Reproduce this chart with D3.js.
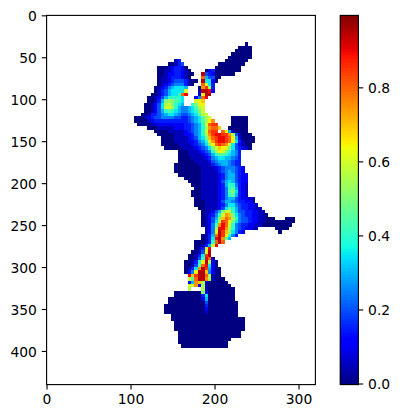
<!DOCTYPE html>
<html><head><meta charset="utf-8">
<script src="https://cdn.jsdelivr.net/npm/d3@7"></script>
<style>html,body{margin:0;padding:0;background:#fff}svg{display:block}
text{font-family:"DejaVu Sans",sans-serif;font-size:13.89px;fill:#000}</style>
</head><body><svg id="c" width="400" height="418"></svg>
<script>
const xTicks=[0,100,200,300];
const yTicks=[0,50,100,150,200,250,300,350,400];
const barTicks=[0,0.2,0.4,0.6,0.8];
const cellSize=4;
const firstRow=8;
const levelChars="0123456789abcdefghijk";
const levelStep=0.05;
const rowStart=[59,57,56,55,54,38,36,33,33,33,33,33,33,32,32,31,30,30,29,29,29,28,26,26,27,30,32,33,34,34,34,35,39,39,39,39,38,38,38,39,41,42,43,44,43,43,44,44,44,45,46,46,46,46,46,47,47,46,46,44,44,44,43,42,42,41,41,41,41,42,42,42,42,42,38,38,36,36,35,35,35,37,37,38,38,38,39,39,39,39,40];
const rowCells=[
"0","0000","00000","000000","0000000",
"13.............0000000",
"00134..........00000000",
"000123320........00000000",
"0011233210....02300000000",
"00122332100..j432000000",
"0112333210...g64400",
"011234443100.j7720",
"01234555310..gc73",
"0123567776...0fhb3",
"013467777c...1jji2",
"001346778gi...2djj",
"00124688887...25gi",
"00136aba987...cde",
"001247bca876..8acd",
"001247ccb8655679bc",
"001246898765" + "5678ac",
"001334567765445679bc",
"000123445555443345679bc......00000",
"000012333333333345679bdf.....00000",
"00001122222222334568cghh....00000",
"0001111122233456" + "8bfgge..000000",
"000011111234568cghh.gd610000",
"00000111223568bfhiihhfb41000",
"0000111123467aeghiihgd620000",
"00001111223568cfhiihgd731000",
"00000111123457adghgfc742100",
"00000111123457acedca743210",
"0001112345" + "8bdca8653",
"0001111234689987653",
"0000111123567766543",
"0000011112456665433",
"00000001111345665433",
"000000001111234555432",
"000000001111134565432",
"000000011111235664322",
"0000011111235664322",
"000011111246764322",
"00011111236885321",
"0011111235896321",
"000111112359a7321",
"00011111235896321",
"001111123566432211",
"000111124665433221",
"0001111235775433221",
"0011112479864332211",
"011246acc8644332211",
"012358cfea7543322110",
"01246aegfb8544322110" + "00...000",
"01247bhgda754432211000000000",
"012" + "59figc854332211000000000",
"125biifb85432211.....0000",
"125djheb7532..........0",
"0136gjhd853",
"0137ijf96",
"000138gjg",
"00136ci",
"013ci",
"0014dj",
"00137hj",
"00148ig1",
"00138djb20",
"00149gi720",
"0137fjh6200",
"025djje5200",
"iehjjgb100",
"c9gjjfb1000",
"26feb1000000",
"ccf2b10000000",
"b...b100000000",
"00000000a200000000",
"000000003700000000",
"00000000002600000000",
"000000000004000000000",
"0000000000003000000000",
"0000000000002000000000",
"0000000000001000000000",
"00000000000000000000",
"0000000000000000000000",
"000000000000000000000",
"000000000000000000000",
"000000000000000000000",
"0000000000000000000",
"0000000000000000000",
"0000000000000000",
"000000000000000",
"00000000000000"
];
const xDomain=[-0.5,319.5], yDomain=[439.5,-0.5], barDomain=[-0.0016,0.9957];
const jetR=[[0,0],[0.35,0],[0.66,1],[0.89,1],[1,0.5]];
const jetG=[[0,0],[0.125,0],[0.375,1],[0.64,1],[0.91,0],[1,0]];
const jetB=[[0,0.5],[0.11,1],[0.34,1],[0.65,0],[1,0]];
const ch=s=>d3.scaleLinear().domain(s.map(d=>d[0])).range(s.map(d=>d[1])).clamp(true);
const R=ch(jetR),G=ch(jetG),B=ch(jetB);
const norm=d3.scaleLinear().domain(barDomain).range([0,1]).clamp(true);
const jet=v=>{const t=norm(v);return d3.rgb(R(t)*255,G(t)*255,B(t)*255).formatHex();};

const svg=d3.select("#c");
const L=46.6,Rt=315.4,T=15.4,Bt=384.6,tick=4.86,pad=4.86,lw=1.11;
const x=d3.scaleLinear().domain(xDomain).range([L,Rt]);
const y=d3.scaleLinear().domain(yDomain).range([Bt,T]);
const cells=[];
rowCells.forEach((s,i)=>{[...s].forEach((c,j)=>{const k=levelChars.indexOf(c);
 if(k>=0)cells.push({r:firstRow+i,c:rowStart[i]+j,v:k*levelStep});});});
const cx=d=>d*cellSize-0.5;
svg.append("g").attr("shape-rendering","crispEdges").selectAll("rect").data(cells).join("rect")
 .attr("x",d=>x(cx(d.c))).attr("y",d=>y(cx(d.r)))
 .attr("width",x(cellSize)-x(0)).attr("height",y(cellSize)-y(0))
 .attr("fill",d=>jet(d.v));
function styleAxis(a){
 a.select(".domain").remove();
 a.selectAll("line").attr("stroke","#000").attr("stroke-width",lw);
 a.selectAll("text").style("font-size","13.89px").style("font-family",'"DejaVu Sans"').attr("fill","#000");
}
const ax=svg.append("g").attr("transform",`translate(0,${Bt})`).call(d3.axisBottom(x).offset(0).tickValues(xTicks).tickFormat(d3.format("d")).tickSizeOuter(0).tickSize(tick).tickPadding(pad));
const ay=svg.append("g").attr("transform",`translate(${L},0)`).call(d3.axisLeft(y).offset(0).tickValues(yTicks).tickFormat(d3.format("d")).tickSizeOuter(0).tickSize(tick).tickPadding(pad));
[ax,ay].forEach(styleAxis);
ay.selectAll("text").attr("dy","0.37em");
svg.append("rect").attr("x",L).attr("y",T).attr("width",Rt-L).attr("height",Bt-T).attr("fill","none").attr("stroke","#000").attr("stroke-width",lw);

const bx0=340.2,bx1=358.4;
const by=d3.scaleLinear().domain(barDomain).range([Bt,T]);
const barLevels=d3.range(256).map(i=>barDomain[0]+(i+0.5)/256*(barDomain[1]-barDomain[0]));
const bh=(Bt-T)/256;
svg.append("g").attr("shape-rendering","crispEdges").selectAll("rect").data(barLevels).join("rect")
 .attr("x",bx0).attr("width",bx1-bx0).attr("y",d=>by(d)-bh/2-0.3).attr("height",bh+0.6).attr("fill",jet);
const bax=svg.append("g").attr("transform",`translate(${bx1},0)`).call(d3.axisRight(by).offset(0).tickValues(barTicks).tickFormat(d3.format(".1f")).tickSizeOuter(0).tickSize(tick).tickPadding(pad));
styleAxis(bax);
bax.selectAll("text").attr("dy","0.37em");
svg.append("rect").attr("x",bx0).attr("y",T).attr("width",bx1-bx0).attr("height",Bt-T).attr("fill","none").attr("stroke","#000").attr("stroke-width",lw);
</script></body></html>
